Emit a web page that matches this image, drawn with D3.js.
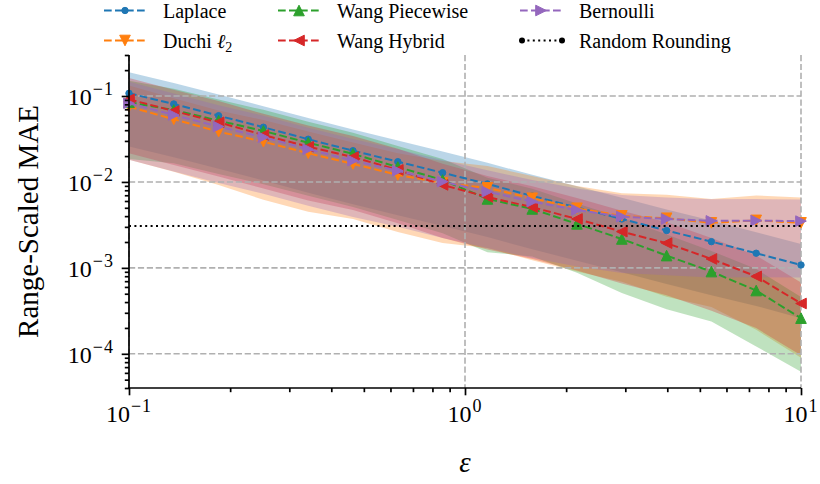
<!DOCTYPE html>
<html><head><meta charset="utf-8">
<script src="https://cdn.jsdelivr.net/npm/d3@7"></script>
<style>body{margin:0;background:#fff}</style>
</head><body><svg id="c" width="820" height="484"></svg>
<script>
// ---- data ----
const epsilon = [0.1, 0.1359, 0.1848, 0.2512, 0.3415, 0.4642, 0.6310, 0.8577, 1.166, 1.585, 2.154, 2.929, 3.981, 5.412, 7.356, 10];
const laplace    = [0.1075,0.0807,0.0590,0.0433,0.0314,0.0231,0.0172,0.0128,0.00948,0.00687,0.00505,0.00371,0.00272,0.00202,0.00148,0.00108];
const laplaceStd = [0.0817,0.0613,0.0448,0.0329,0.0239,0.0176,0.0131,0.00973,0.00720,0.00522,0.00384,0.00282,0.00207,0.00154,0.00112,0.00082];
const duchi      = [0.0751,0.0536,0.0385,0.0294,0.0216,0.0162,0.01206,0.00974,0.00852,0.00646,0.00494,0.00403,0.00378,0.00334,0.00357,0.00334];
const duchiStd   = [0.0570,0.0405,0.0293,0.0232,0.0171,0.0125,0.00945,0.00779,0.00682,0.00523,0.00403,0.00334,0.00332,0.00299,0.00338,0.00325];
const wangPiecewise    = [0.0845,0.0688,0.0516,0.0392,0.0286,0.0212,0.0149,0.01054,0.00634,0.00485,0.00325,0.00217,0.00139,0.000906,0.000545,0.000260];
const wangPiecewiseStd = [0.0660,0.0523,0.0392,0.0298,0.0217,0.0161,0.0113,0.00801,0.00482,0.00349,0.00237,0.00166,0.00106,0.000668,0.000423,0.000198];
const wangHybrid    = [0.0915,0.0669,0.0494,0.0352,0.0257,0.0195,0.0138,0.00923,0.00669,0.00508,0.00371,0.00264,0.00194,0.00127,0.000796,0.000385];
const wangHybridStd = [0.0700,0.0512,0.0378,0.0268,0.0196,0.0148,0.0105,0.00700,0.00505,0.00381,0.00278,0.00198,0.00146,0.000953,0.000597,0.000289];
const bernoulli    = [0.0823,0.0601,0.0440,0.0331,0.0240,0.0177,0.0135,0.01008,0.00771,0.00590,0.00472,0.00395,0.00371,0.00352,0.00355,0.00350];
const bernoulliStd = [0.0642,0.0469,0.0343,0.0258,0.0187,0.0138,0.0105,0.00786,0.00601,0.00460,0.00368,0.00308,0.00289,0.00275,0.00277,0.00273];
const randomRounding = 0.00308;
const xMajorTicks = [0.1, 1, 10];
const xTickExponents = ["\u22121", "0", "1"];
const yMajorTicks = [1e-4, 1e-3, 1e-2, 1e-1];
const yTickExponents = ["\u22124", "\u22123", "\u22122", "\u22121"];
const seriesNames = ["Laplace", "Duchi", "Wang Piecewise", "Wang Hybrid", "Bernoulli"];
const randomRoundingName = "Random Rounding";

// ---- setup ----
const colors = ["#1f77b4", "#ff7f0e", "#2ca02c", "#d62728", "#9467bd"];
const markerKinds = ["circle", "down", "up", "left", "right"];
const means = [laplace, duchi, wangPiecewise, wangHybrid, bernoulli];
const stds = [laplaceStd, duchiStd, wangPiecewiseStd, wangHybridStd, bernoulliStd];
const FONT = "'Liberation Serif','DejaVu Serif',serif";

const L = 129, R = 801, T = 55, B = 388;
const svg = d3.select("#c");
const x = d3.scaleLog().domain([0.1, 10]).range([L, R]);
const y = d3.scaleLog().domain([4e-5, 0.3]).range([B, T]);

svg.append("defs").append("clipPath").attr("id", "clip")
  .append("rect").attr("x", L).attr("y", T).attr("width", R - L).attr("height", B - T);

const plot = svg.append("g").attr("clip-path", "url(#clip)");

// bands
const area = d3.area().x(d => x(d.x)).y0(d => y(d.lo)).y1(d => y(d.hi));
means.forEach((m, k) => {
  const pts = epsilon.map((e, i) => ({x: e, lo: m[i] - stds[k][i], hi: m[i] + stds[k][i]}));
  plot.append("path").attr("d", area(pts)).attr("fill", colors[k]).attr("fill-opacity", 0.3).attr("stroke", "none");
});

// grid
const gridG = svg.append("g");
yMajorTicks.forEach(v => gridG.append("line").attr("x1", L).attr("x2", R).attr("y1", y(v)).attr("y2", y(v)));
xMajorTicks.forEach(v => gridG.append("line").attr("x1", x(v)).attr("x2", x(v)).attr("y1", T).attr("y2", B));
gridG.selectAll("line").attr("stroke", "#b0b0b0").attr("stroke-width", 1.6).attr("stroke-dasharray", "6.2,2.7");

// markers
function markerPath(kind, s) {
  if (kind === "up") return `M0,${-s}L${s},${s}L${-s},${s}Z`;
  if (kind === "down") return `M0,${s}L${s},${-s}L${-s},${-s}Z`;
  if (kind === "left") return `M${-s},0L${s},${-s}L${s},${s}Z`;
  if (kind === "right") return `M${s},0L${-s},${-s}L${-s},${s}Z`;
  return d3.symbol(d3.symbolCircle, Math.PI * s * s)();
}

// lines
const line = d3.line().x(d => x(d.x)).y(d => y(d.y));
const linesG = svg.append("g");
means.forEach((m, k) => {
  const pts = epsilon.map((e, i) => ({x: e, y: m[i]}));
  linesG.append("path").attr("d", line(pts)).attr("fill", "none").attr("stroke", colors[k])
    .attr("stroke-width", 2).attr("stroke-dasharray", "7.7,3.3");
  const s = markerKinds[k] === "circle" ? 3.2 : 5.3;
  linesG.selectAll(null).data(pts).join("path")
    .attr("transform", d => `translate(${x(d.x)},${y(d.y)})`)
    .attr("d", markerPath(markerKinds[k], s))
    .attr("fill", colors[k]).attr("stroke", colors[k]).attr("stroke-width", 1);
});
linesG.append("line").attr("x1", x(0.1)).attr("x2", x(10)).attr("y1", y(randomRounding)).attr("y2", y(randomRounding))
  .attr("stroke", "#000").attr("stroke-width", 2).attr("stroke-dasharray", "2,3.4");

// axes
const minorX = x.ticks().filter(v => !xMajorTicks.some(t => Math.abs(t - v) / t < 1e-6));
const minorY = y.ticks().filter(v => !yMajorTicks.some(t => Math.abs(t - v) / t < 1e-6));
const ax = svg.append("g").attr("transform", `translate(0,${B})`);
ax.call(d3.axisBottom(x).tickValues(minorX).tickSize(4.2).tickFormat("")).call(g => g.select(".domain").remove());
const axM = svg.append("g").attr("transform", `translate(0,${B})`);
axM.call(d3.axisBottom(x).tickValues(xMajorTicks).tickSize(7.3).tickFormat("")).call(g => g.select(".domain").remove());
const ay = svg.append("g").attr("transform", `translate(${L},0)`);
ay.call(d3.axisLeft(y).tickValues(minorY).tickSize(4.2).tickFormat("")).call(g => g.select(".domain").remove());
const ayM = svg.append("g").attr("transform", `translate(${L},0)`);
ayM.call(d3.axisLeft(y).tickValues(yMajorTicks).tickSize(7.3).tickFormat("")).call(g => g.select(".domain").remove());
svg.selectAll(".tick line").attr("stroke", "#000").attr("stroke-width", 1.7);

// spines
svg.append("line").attr("x1", L).attr("x2", L).attr("y1", T).attr("y2", B + 0.85).attr("stroke", "#000").attr("stroke-width", 1.7);
svg.append("line").attr("x1", L - 0.85).attr("x2", R).attr("y1", B).attr("y2", B).attr("stroke", "#000").attr("stroke-width", 1.7);

// tick labels
function powLabel(g, xx, yy, exp, anchor) {
  const t = g.append("text").attr("x", xx).attr("y", yy).attr("text-anchor", anchor)
    .attr("font-family", FONT).attr("font-size", 24).attr("fill", "#000");
  t.append("tspan").text("10");
  t.append("tspan").attr("dy", -10).attr("dx", 1).attr("font-size", 18).attr("letter-spacing", 1).text(exp);
}
const labG = svg.append("g");
xMajorTicks.forEach((v, i) => powLabel(labG, x(v), 422, xTickExponents[i], "middle"));
yMajorTicks.forEach((v, i) => powLabel(labG, L - 15, y(v) + 9, yTickExponents[i], "end"));

// axis labels
svg.append("text").attr("x", x(1)).attr("y", 472).attr("text-anchor", "middle")
  .attr("font-family", FONT).attr("font-size", 29).attr("font-style", "italic").text("\u03b5");
svg.append("text").attr("transform", `translate(38,${(T + B) / 2}) rotate(-90)`).attr("text-anchor", "middle")
  .attr("font-family", FONT).attr("font-size", 29).text("Range-Scaled MAE");

// legend
const legItems = seriesNames.map((n, k) => ({name: n, color: colors[k], kind: markerKinds[k]}));
legItems.push({name: randomRoundingName, color: "#000", kind: "rr"});
const colX = [104, 278, 520];
const rowY = [10.5, 40.5];
const leg = svg.append("g");
legItems.forEach((it, i) => {
  const c = Math.floor(i / 2), r = i % 2;
  const x0 = colX[c], yy = rowY[r];
  const g = leg.append("g");
  if (it.kind === "rr") {
    g.append("line").attr("x1", x0 + 2).attr("x2", x0 + 42).attr("y1", yy).attr("y2", yy)
      .attr("stroke", "#000").attr("stroke-width", 2).attr("stroke-dasharray", "2,3.4");
    [x0 + 2, x0 + 42].forEach(cx => g.append("circle").attr("cx", cx).attr("cy", yy).attr("r", 3).attr("fill", "#000"));
  } else {
    g.append("line").attr("x1", x0).attr("x2", x0 + 42).attr("y1", yy).attr("y2", yy)
      .attr("stroke", it.color).attr("stroke-width", 2).attr("stroke-dasharray", "7.7,3.3");
    const s = it.kind === "circle" ? 3.2 : 5.3;
    g.append("path").attr("transform", `translate(${x0 + 21},${yy})`).attr("d", markerPath(it.kind, s))
      .attr("fill", it.color).attr("stroke", it.color).attr("stroke-width", 1);
  }
  const t = g.append("text").attr("x", x0 + 59).attr("y", yy + 7.5).attr("font-family", FONT).attr("font-size", 20).attr("fill", "#000");
  t.append("tspan").text(it.name);
  if (it.name === "Duchi") {
    t.append("tspan").text(" ");
    t.append("tspan").attr("font-style", "italic").text("\u2113");
    t.append("tspan").attr("dy", 4).attr("font-size", 14).text("2");
  }
});
</script></body></html>
